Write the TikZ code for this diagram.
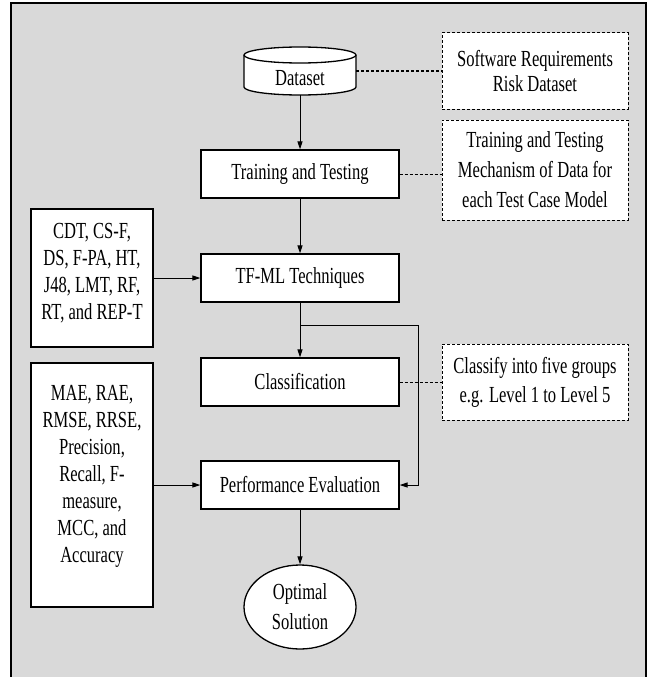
\documentclass[tikz,border=0pt]{standalone}
\usepackage{fontspec}
\setmainfont[FakeStretch=0.72]{Liberation Serif}
\usetikzlibrary{arrows.meta,shapes.geometric}
\definecolor{bggray}{HTML}{D9D9D9}
\begin{document}
\begin{tikzpicture}[x=1pt,y=-1pt,
  font=\fontsize{23}{27}\selectfont,
  box/.style={draw, line width=1.3pt, fill=white, minimum width=198pt, minimum height=48pt, inner sep=0pt, align=center},
  note/.style={draw, dash pattern=on 3pt off 2pt, line width=1pt, fill=white, minimum width=186pt, inner sep=0pt, align=center},
  side/.style={draw, line width=1.3pt, fill=white, minimum width=122pt, inner sep=0pt},
  arr/.style={line width=1pt, -{Triangle[length=8pt,width=5pt]}},
  dline/.style={line width=1pt, dash pattern=on 3pt off 2pt}]
\useasboundingbox (0,0) rectangle (653,677);
\clip (0,0) rectangle (653,677);
\fill[white] (0,0) rectangle (653,677);
\draw[fill=bggray, line width=2pt] (11,3.5) rectangle (646,700);

% cylinder
\draw[fill=white, line width=1.3pt] (244,55) -- (244,87)
  arc[start angle=180, end angle=360, x radius=56pt, y radius=8pt] -- (356,55)
  arc[start angle=0, end angle=180, x radius=56pt, y radius=8pt] -- cycle;
\draw[line width=1.3pt] (244,55) arc[start angle=180, end angle=360, x radius=56pt, y radius=8pt];
\node[minimum width=112pt, minimum height=48pt, inner sep=0pt, text height=28pt, text depth=0pt] (data) at (300,71) {Dataset};

\node[box] (train) at (300,174) {Training and Testing};
\node[box] (tfml) at (300,278) {TF-ML Techniques};
\node[box] (cls) at (300,382) {Classification};
\node[box] (perf) at (300,485) {Performance Evaluation};

\node[note, minimum height=76pt, font=\fontsize{23}{25}\selectfont] (note1) at (535,71) {Software Requirements\\Risk Dataset};
\node[note, minimum height=100pt, font=\fontsize{23}{30}\selectfont] (note2) at (535,170) {Training and Testing\\Mechanism of Data for\\each Test Case Model};
\node[note, minimum height=76pt, font=\fontsize{23}{29}\selectfont] (note3) at (535,382) {Classify into five groups\\e.g. Level 1 to Level 5};

\node[side, minimum height=138pt] (cdt) at (92,278) {\raisebox{-2pt}[0pt][0pt]{\begin{tabular}{@{}c@{}}CDT, CS-F,\\DS, F-PA, HT,\\J48, LMT, RF,\\RT, and REP-T\end{tabular}}};
\node[side, minimum height=244pt] (mae) at (92,485) {\raisebox{3pt}[0pt][0pt]{\begin{tabular}{@{}c@{}}MAE, RAE,\\RMSE, RRSE,\\Precision,\\Recall, F-\\measure,\\MCC, and\\Accuracy\end{tabular}}};

\node[ellipse, draw, line width=1.3pt, fill=white, minimum width=112pt, minimum height=84pt, inner sep=0pt, align=center, font=\fontsize{23}{30}\selectfont] (opt) at (300,607) {Optimal\\Solution};

\draw[arr] (data) -- (train);
\draw[dline] (data.east) -- (note1.west);
\draw[dline] (train.east) -- (train.east -| note2.west);
\draw[arr] (train) -- (tfml);
\draw[arr] (cdt) -- (tfml);
\draw[arr] (tfml) -- (cls);
\coordinate (br) at (300,325);
\coordinate (bend) at (418,325);
\draw[arr] (br) -- (bend) |- (perf.east);
\draw[dline] (cls.east) -- (note3.west);
\draw[arr] (mae) -- (perf);
\draw[arr] (perf) -- (opt);
\end{tikzpicture}
\end{document}
